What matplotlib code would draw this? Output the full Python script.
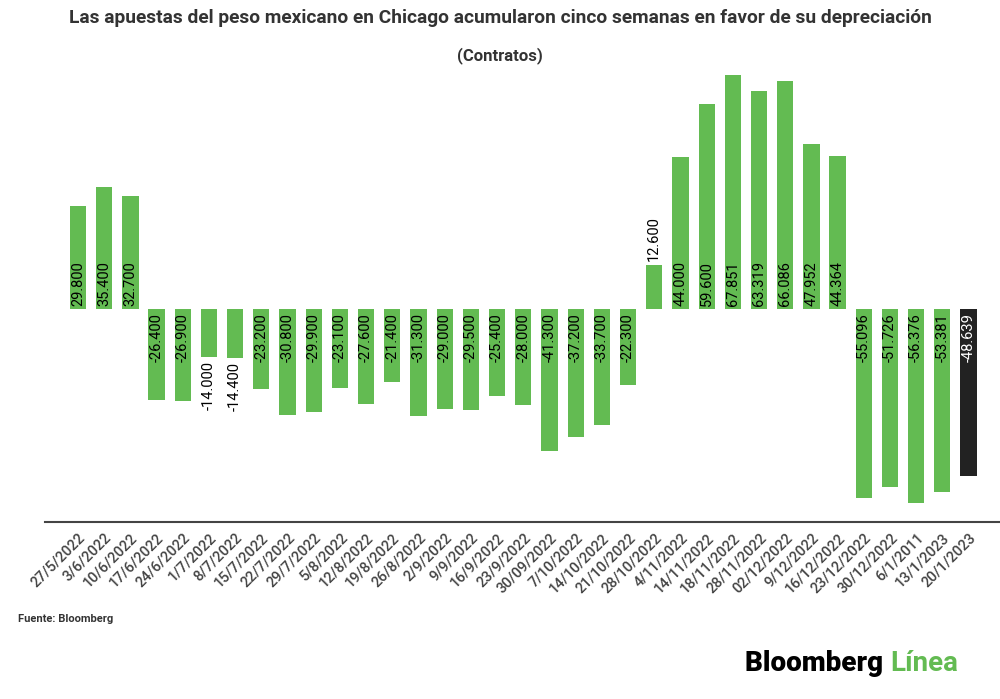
import numpy as np
import matplotlib.pyplot as plt

plt.rcParams['font.family'] = ['Roboto', 'DejaVu Sans']

# weekly dates and net contracts
dates = ["27/5/2022", "3/6/2022", "10/6/2022", "17/6/2022", "24/6/2022", "1/7/2022",
         "8/7/2022", "15/7/2022", "22/7/2022", "29/7/2022", "5/8/2022", "12/8/2022",
         "19/8/2022", "26/8/2022", "2/9/2022", "9/9/2022", "16/9/2022", "23/9/2022",
         "30/09/2022", "7/10/2022", "14/10/2022", "21/10/2022", "28/10/2022", "4/11/2022",
         "14/11/2022", "18/11/2022", "28/11/2022", "02/12/2022", "9/12/2022", "16/12/2022",
         "23/12/2022", "30/12/2022", "6/1/2011", "13/1/2023", "20/1/2023"]
contracts = [29800, 35400, 32700, -26400, -26900, -14000, -14400, -23200, -30800, -29900,
             -23100, -27600, -21400, -31300, -29000, -29500, -25400, -28000, -41300, -37200,
             -33700, -22300, 12600, 44000, 59600, 67851, 63319, 66086, 47952, 44364,
             -55096, -51726, -56376, -53381, -48639]

green = "#63bb52"
dark = "#222222"

fig = plt.figure(figsize=(10, 6.99), dpi=100)
ax = fig.add_axes([0.045, 0.2532, 0.955, 0.6495])

x = np.arange(len(dates))
colors = [green] * (len(dates) - 1) + [dark]
ax.bar(x, contracts, width=0.62, color=colors)

def fmt(v):
    return f"{v:,}".replace(",", ".")

for i, v in enumerate(contracts):
    last = i == len(contracts) - 1
    tcol = "white" if last else "black"
    if abs(v) < 15000:
        # small bars: label outside the bar
        if v > 0:
            ax.annotate(fmt(v), (i, v), xytext=(0, 3), textcoords="offset points",
                        rotation=90, ha="center", va="bottom", fontsize=10.5, color="black")
        else:
            ax.annotate(fmt(v), (i, v), xytext=(0, -3), textcoords="offset points",
                        rotation=90, ha="center", va="top", fontsize=10.5, color="black")
    elif v > 0:
        ax.annotate(fmt(v), (i, 0), xytext=(0, 2), textcoords="offset points",
                    rotation=90, ha="center", va="bottom", fontsize=10.5, color=tcol)
    else:
        ax.annotate(fmt(v), (i, 0), xytext=(0, -3), textcoords="offset points",
                    rotation=90, ha="center", va="top", fontsize=10.5, color=tcol)

ax.set_xlim(-1.26, 35.2)
ax.set_ylim(-62000, 70000)
ax.set_xticks(x)
ax.set_xticklabels(dates, rotation=45, ha="right", rotation_mode="anchor",
                   fontsize=10.5, fontweight="medium", color="#444444")
ax.tick_params(axis="x", length=0, pad=6)
ax.set_yticks([])
for s in ["top", "right", "left"]:
    ax.spines[s].set_visible(False)
ax.spines["bottom"].set_color("#444444")
ax.spines["bottom"].set_linewidth(1.5)

fig.text(0.5, 0.974, "Las apuestas del peso mexicano en Chicago acumularon cinco semanas en favor de su depreciación",
         ha="center", va="center", fontsize=13.8, fontweight="bold", color="#333333")
fig.text(0.5, 0.921, "(Contratos)", ha="center", va="center", fontsize=12,
         fontweight="bold", color="#333333")
fig.text(0.018, 0.115, "Fuente: Bloomberg", ha="left", va="center", fontsize=8,
         fontweight="bold", color="#333333")

# logo: two colours on one line
t1 = fig.text(0.745, 0.051, "Bloomberg ", ha="left", va="center", fontsize=20,
              fontweight="heavy", color="black")
fig.canvas.draw()
bb = t1.get_window_extent().transformed(fig.transFigure.inverted())
fig.text(bb.x1, 0.051, "Línea", ha="left", va="center", fontsize=20,
         fontweight="bold", color=green)

fig.savefig("out.png", dpi=100)
